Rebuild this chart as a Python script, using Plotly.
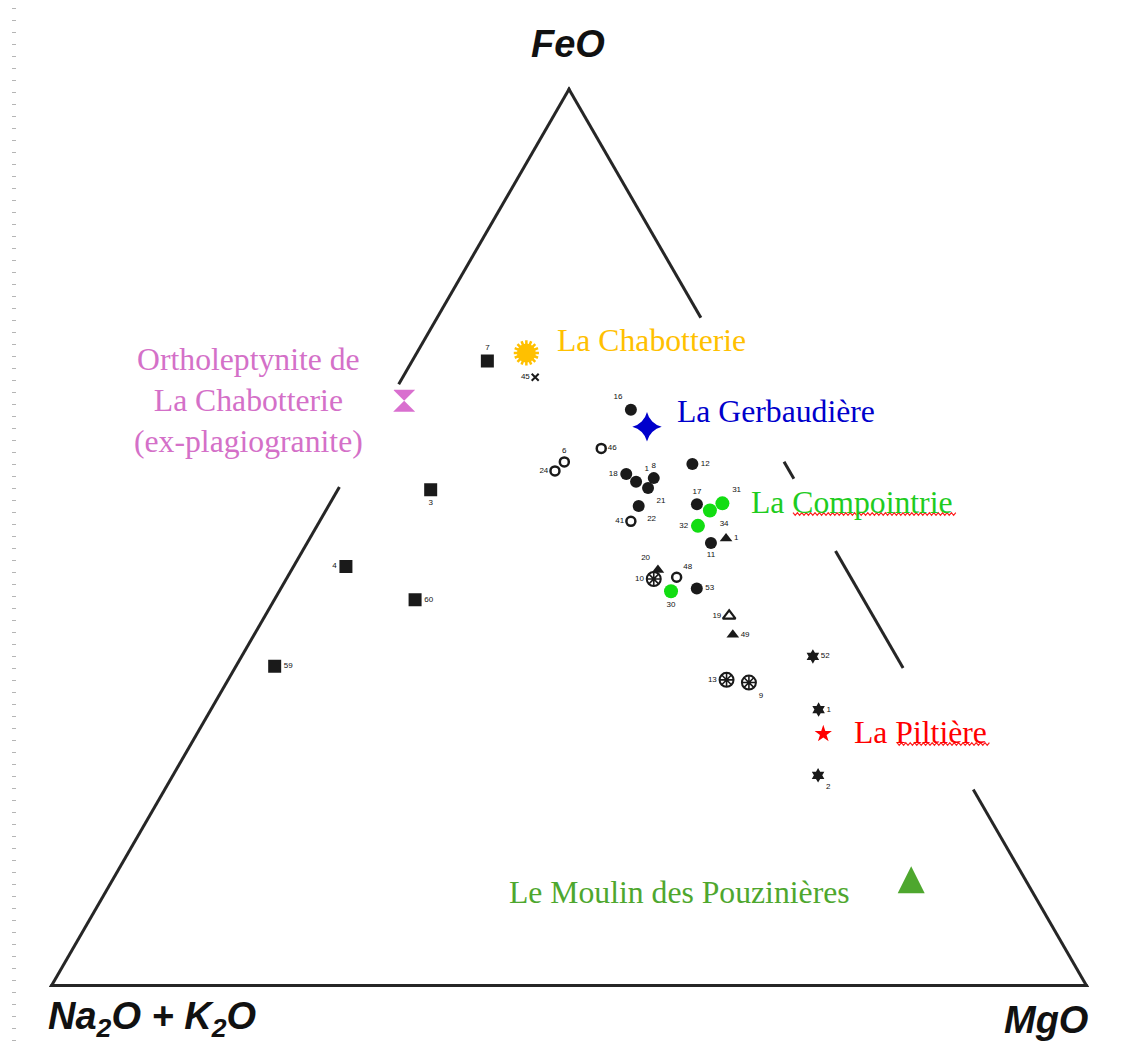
import math
import plotly.graph_objects as go

W, H = 1136, 1043          # browser window
OFF = 8                    # default page margin around the plot div
FW, FH = W - OFF, H - OFF  # figure size so that it ends at the window edge

# ---------------- data: FeO / (Na2O+K2O) / MgO, normalised to 100 ----------------
SQ_LABELS = ['7', '3', '4', '60', '59']
SQ_FEO = [69.5, 55.2, 46.7, 43.0, 35.6]
SQ_ALK = [23.1, 35.7, 48.1, 43.3, 60.5]
SQ_MGO = [7.4, 9.1, 5.2, 13.7, 3.9]
SQ_POS = ['top center', 'bottom center', 'middle left', 'middle right', 'middle right']

OC_LABELS = ['46', '6', '24', '41', '48']
OC_FEO = [59.8, 58.3, 57.3, 51.7, 45.5]
OC_ALK = [17.0, 21.3, 22.7, 18.2, 16.9]
OC_MGO = [23.2, 20.4, 20.0, 30.1, 37.6]
OC_POS = ['middle right', 'top center', 'middle left', 'middle left', 'top right']

FC_LABELS = ['16', '12', '18', '1', '8', '21', '22', '17', '11', '53']
FC_FEO = [64.1, 58.0, 56.9, 56.1, 56.5, 55.4, 53.4, 53.6, 49.3, 44.3]
FC_ALK = [12.0, 9.1, 16.0, 15.5, 13.6, 14.7, 16.6, 10.9, 11.7, 15.6]
FC_MGO = [23.9, 32.8, 27.0, 28.4, 29.9, 29.9, 30.0, 35.5, 39.0, 40.2]
FC_POS = ['top left', 'middle right', 'middle left', 'top right', 'top center',
          'bottom right', 'bottom right', 'top center', 'bottom center', 'middle right']

FT_LABELS = ['1', '20', '49']
FT_FEO = [49.8, 46.3, 39.1]
FT_ALK = [10.0, 18.3, 14.7]
FT_MGO = [40.2, 35.4, 46.2]
FT_POS = ['middle right', 'top left', 'middle right']

OT_LABELS = ['19']
OT_FEO = [41.2]
OT_ALK = [14.0]
OT_MGO = [44.8]
OT_POS = ['middle left']

CX_LABELS = ['10', '13', '9']
CX_FEO = [45.3, 34.1, 33.8]
CX_ALK = [19.2, 17.8, 15.8]
CX_MGO = [35.5, 48.1, 50.4]
CX_POS = ['middle left', 'middle left', 'bottom right']

ST_LABELS = ['52', '1', '2']
ST_FEO = [36.7, 30.8, 23.5]
ST_ALK = [8.2, 10.6, 14.3]
ST_MGO = [55.1, 58.6, 62.2]
ST_POS = ['middle right', 'middle right', 'bottom right']

X_LABELS = ['45']
X_FEO = [67.7]
X_ALK = [19.4]
X_MGO = [12.9]
X_POS = ['middle left']

GC_LABELS = ['31', '34', '32', '30']
GC_FEO = [53.7, 52.9, 51.2, 43.9]
GC_ALK = [8.4, 10.0, 12.0, 18.2]
GC_MGO = [37.9, 37.1, 36.8, 37.8]
GC_POS = ['top right', 'bottom right', 'middle left', 'bottom center']

# named localities
LOC_NAMES = ['La Chabotterie', 'La Gerbaudière', 'Ortholeptynite', 'La Piltière',
             'Le Moulin des Pouzinières']
LOC_FEO = [70.4, 62.2, 65.1, 28.1, 13.4]
LOC_ALK = [18.9, 11.4, 33.3, 11.5, 10.4]
LOC_MGO = [10.7, 26.4, 1.6, 60.4, 76.2]

# visible pieces of the triangle sides (FeO range, %)
LEFT_SIDE = [(0, 55.6), (67.0, 100)]
RIGHT_SIDE = [(74.4, 100), (56.5, 58.4), (35.5, 48.5), (0, 22.0)]

AXIS_TITLES = ['FeO', 'Na<sub>2</sub>O + K<sub>2</sub>O', 'MgO']


def px(x):
    return (x - OFF) / FW


def py(y):
    return 1 - (y - OFF) / FH


# ---------------- figure ----------------
fig = go.Figure()

# triangle geometry (window pixels) -> ternary domain
TRI_LEFT, TRI_W, TRI_BASE = 49, 1040, 987
tri_h = TRI_W * math.sqrt(3) / 2
tri_cy = TRI_BASE - tri_h / 2
xdom = [px(TRI_LEFT), px(TRI_LEFT + TRI_W)]
yc = py(tri_cy)
ydom = [yc - 0.45, yc + 0.45]

LINE_C = '#262626'


def side_trace(a, b, c):
    fig.add_trace(go.Scatterternary(a=a, b=b, c=c, mode='lines',
                                    line=dict(color=LINE_C, width=6),
                                    connectgaps=False, hoverinfo='skip',
                                    showlegend=False))


a, b, c = [], [], []
for lo, hi in LEFT_SIDE:
    a += [lo, hi, None]
    b += [100 - lo, 100 - hi, None]
    c += [0, 0, None]
side_trace(a, b, c)
a, b, c = [], [], []
for lo, hi in RIGHT_SIDE:
    a += [lo, hi, None]
    b += [0, 0, None]
    c += [100 - lo, 100 - hi, None]
side_trace(a, b, c)
side_trace([0, 0], [100, 0], [0, 100])

NUMFONT = dict(family='Liberation Sans', size=8, color='#111111')


def group(labels, feo, alk, mgo, pos, marker, text=True):
    fig.add_trace(go.Scatterternary(
        a=feo, b=alk, c=mgo,
        mode='markers+text' if text else 'markers',
        text=labels if text else None, textposition=pos, textfont=NUMFONT,
        marker=marker, hoverinfo='skip', showlegend=False))


INK = '#1a1a1a'
group(SQ_LABELS, SQ_FEO, SQ_ALK, SQ_MGO, SQ_POS,
      dict(symbol='square', size=13, color=INK))
group(OC_LABELS, OC_FEO, OC_ALK, OC_MGO, OC_POS,
      dict(symbol='circle-open', size=9, color=INK, line=dict(width=2.5, color=INK)))
group(FC_LABELS, FC_FEO, FC_ALK, FC_MGO, FC_POS,
      dict(symbol='circle', size=12, color=INK))
group(FT_LABELS, FT_FEO, FT_ALK, FT_MGO, FT_POS,
      dict(symbol='triangle-up', size=11, color=INK))
group(OT_LABELS, OT_FEO, OT_ALK, OT_MGO, OT_POS,
      dict(symbol='triangle-up-open', size=11, color=INK, line=dict(width=2.2, color=INK)))
group(CX_LABELS, CX_FEO, CX_ALK, CX_MGO, CX_POS,
      dict(symbol='circle-open', size=14, color=INK, line=dict(width=2, color=INK)))
group(CX_LABELS, CX_FEO, CX_ALK, CX_MGO, CX_POS,
      dict(symbol='asterisk-open', size=12, color=INK, line=dict(width=1.6, color=INK)),
      text=False)
group(ST_LABELS, ST_FEO, ST_ALK, ST_MGO, ST_POS,
      dict(symbol='hexagram', size=11, color=INK))
group(X_LABELS, X_FEO, X_ALK, X_MGO, X_POS,
      dict(symbol='x-thin-open', size=7, color=INK, line=dict(width=2, color=INK)))
group(GC_LABELS, GC_FEO, GC_ALK, GC_MGO, GC_POS,
      dict(symbol='circle', size=14, color='#12DD12'))

# named localities
SUN = '#FFC000'
sun = ([LOC_FEO[0]], [LOC_ALK[0]], [LOC_MGO[0]])
fig.add_trace(go.Scatterternary(a=sun[0], b=sun[1], c=sun[2], mode='markers',
                                marker=dict(symbol='circle', size=19, color=SUN),
                                hoverinfo='skip', showlegend=False))
for ang in (0, 22.5):
    fig.add_trace(go.Scatterternary(a=sun[0], b=sun[1], c=sun[2], mode='markers',
                                    marker=dict(symbol='asterisk-open', size=21, angle=ang,
                                                color=SUN, line=dict(width=2.5, color=SUN)),
                                    hoverinfo='skip', showlegend=False))

LOC_MARKERS = [
    None,
    dict(symbol='star-diamond', size=21, color='#0000CC'),
    dict(symbol='hourglass', size=22, color='#D96FCF'),
    dict(symbol='star', size=13, color='#FF0000'),
    dict(symbol='arrow-up', size=27, color='#4EA72E'),
]
for i in range(1, 5):
    fig.add_trace(go.Scatterternary(a=[LOC_FEO[i]], b=[LOC_ALK[i]], c=[LOC_MGO[i]],
                                    mode='markers', marker=LOC_MARKERS[i],
                                    hoverinfo='skip', showlegend=False))

SERIF = 'Liberation Serif'
LS = 31.7
anns = []
for txt, col, x, y in [('La Chabotterie', '#FFC000', 555, 340),
                       ('La Gerbaudière', '#0000CC', 675, 411),
                       ('La Compointrie', '#1FCC1F', 749, 502),
                       ('La Piltière', '#FF0000', 852, 732),
                       ('Le Moulin des Pouzinières', '#4EA72E', 507, 892)]:
    anns.append(dict(text=txt, x=px(x), y=py(y), xref='paper', yref='paper',
                     xanchor='left', yanchor='middle', showarrow=False,
                     font=dict(family=SERIF, size=LS, color=col)))
anns.append(dict(text='Ortholeptynite de<br>La Chabotterie<br>(ex-plagiogranite)',
                 x=px(248), y=py(401), xref='paper', yref='paper', align='center',
                 xanchor='center', yanchor='middle', showarrow=False,
                 font=dict(family=SERIF, size=LS, color='#D470C8')))

TF = dict(family='Liberation Sans', size=38, color='#111111', style='italic', weight='bold')
anns.append(dict(text=AXIS_TITLES[0], x=px(568), y=py(44), xref='paper', yref='paper',
                 xanchor='center', yanchor='middle', showarrow=False, font=TF))
anns.append(dict(text=AXIS_TITLES[1], x=px(46), y=py(1019), xref='paper', yref='paper',
                 xanchor='left', yanchor='middle', showarrow=False, font=TF))
anns.append(dict(text=AXIS_TITLES[2], x=px(1046), y=py(1020), xref='paper', yref='paper',
                 xanchor='center', yanchor='middle', showarrow=False, font=TF))


def squiggle(x0, x1, y, amp=1.4, step=2.2):
    pts = []
    x = x0
    k = 0
    while x <= x1:
        pts.append(f"{px(x):.5f},{py(y + (amp if k % 2 else -amp)):.5f}")
        x += step
        k += 1
    return 'M' + ' L'.join(pts)


shapes = [
    dict(type='path', path=squiggle(793, 958, 514), xref='paper', yref='paper',
         line=dict(color='#FF2020', width=1.2)),
    dict(type='path', path=squiggle(897, 990, 744), xref='paper', yref='paper',
         line=dict(color='#FF2020', width=1.2)),
    dict(type='line', x0=px(14), x1=px(14), y0=py(8), y1=py(1043), xref='paper', yref='paper',
         line=dict(color='#b5b5b5', width=4, dash='1px,11px')),
]

axis_off = dict(showline=False, showgrid=False, showticklabels=False, ticks='',
                title=dict(text=''))
fig.update_layout(
    width=FW, height=FH, margin=dict(l=0, r=0, t=0, b=0),
    paper_bgcolor='white', plot_bgcolor='white',
    ternary=dict(domain=dict(x=xdom, y=ydom), sum=100, bgcolor='white',
                 aaxis=axis_off, baxis=axis_off, caxis=axis_off),
    annotations=anns, shapes=shapes, showlegend=False,
)

fig.write_html('out.html')
